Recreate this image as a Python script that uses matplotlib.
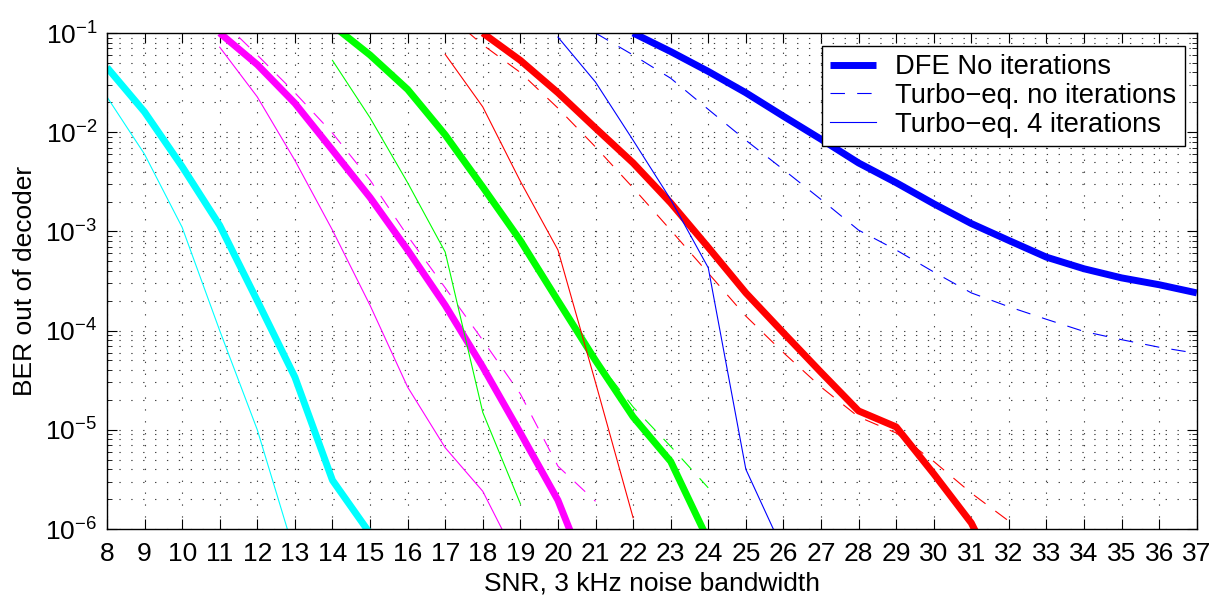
import numpy as np
import matplotlib
matplotlib.use('Agg')
import matplotlib.pyplot as plt
from matplotlib.ticker import LogLocator, NullFormatter, FixedLocator

# BER curves (SNR in dB -> BER)
snr_cyan = [8, 9, 10, 11, 12, 13, 14, 15]
cyan_dfe = [0.045, 0.016, 4.5e-3, 1.15e-3, 2.0e-4, 3.4e-5, 3.1e-6, 9e-7]
cyan_turbo0 = [0.044, 0.0155, 4.3e-3, 1.1e-3, 1.9e-4, 3.1e-5, 3.0e-6, 9e-7]
snr_cyan4 = [8, 9, 10, 11, 12, 13]
cyan_turbo4 = [0.0227, 6.0e-3, 1.1e-3, 1.0e-4, 1.0e-5, 5.6e-7]

snr_mag = [11, 12, 13, 14, 15, 16, 17, 18, 19, 20, 21]
mag_dfe = [0.1, 0.048, 0.0196, 6.6e-3, 2.2e-3, 6.5e-4, 1.8e-4, 4.3e-5, 9.3e-6, 1.95e-6, 2.2e-7]
mag_turbo0 = [0.14, 0.06, 0.025, 9.8e-3, 3.3e-3, 9.0e-4, 2.7e-4, 8.0e-5, 2.3e-5, 4.3e-6, 1.9e-6]
snr_mag4 = [11, 12, 13, 14, 15, 16, 17, 18, 19]
mag_turbo4 = [0.072, 0.0227, 5.2e-3, 1.03e-3, 1.8e-4, 2.7e-5, 6.6e-6, 2.4e-6, 4.3e-7]

snr_grn = [14, 15, 16, 17, 18, 19, 20, 21, 22, 23, 24]
grn_dfe = [0.12, 0.06, 0.027, 9.4e-3, 2.8e-3, 8.1e-4, 2.0e-4, 5.0e-5, 1.35e-5, 4.8e-6, 7.7e-7]
grn_turbo0 = [0.12, 0.062, 0.028, 9.8e-3, 2.9e-3, 8.5e-4, 2.1e-4, 5.2e-5, 1.7e-5, 6.8e-6, 2.6e-6]
snr_grn4 = [14, 15, 16, 17, 18, 19]
grn_turbo4 = [0.053, 0.014, 3.1e-3, 6.2e-4, 1.5e-5, 1.8e-6]

snr_red = [18, 19, 20, 21, 22, 23, 24, 25, 26, 27, 28, 29, 30, 31, 32]
red_dfe = [0.1, 0.053, 0.025, 0.011, 4.9e-3, 1.94e-3, 6.9e-4, 2.4e-4, 9.5e-5, 3.8e-5,
           1.55e-5, 1.07e-5, 3.6e-6, 1.15e-6, 2e-7]
snr_red0 = [17, 18, 19, 20, 21, 22, 23, 24, 25, 26, 27, 28, 29, 30, 31, 32]
red_turbo0 = [0.16, 0.076, 0.04, 0.0175, 7.1e-3, 2.75e-3, 1.03e-3, 3.8e-4, 1.4e-4, 6.0e-5,
              2.7e-5, 1.35e-5, 9.3e-6, 4.8e-6, 2.3e-6, 1.2e-6]
snr_red4 = [17, 18, 19, 20, 21, 22]
red_turbo4 = [0.061, 0.018, 3.2e-3, 6.5e-4, 3.0e-5, 1.3e-6]

snr_blu = [22, 23, 24, 25, 26, 27, 28, 29, 30, 31, 32, 33, 34, 35, 36, 37]
blu_dfe = [0.1, 0.065, 0.041, 0.025, 0.0145, 8.5e-3, 4.9e-3, 3.1e-3, 1.9e-3, 1.2e-3,
           8.1e-4, 5.5e-4, 4.2e-4, 3.4e-4, 2.9e-4, 2.4e-4]
snr_blu0 = [21, 22, 23, 24, 25, 26, 27, 28, 29, 30, 31, 32, 33, 34, 35, 36, 37]
blu_turbo0 = [0.1, 0.06, 0.035, 0.017, 8.3e-3, 4.2e-3, 2.1e-3, 1.03e-3, 6.5e-4, 3.9e-4,
              2.4e-4, 1.74e-4, 1.3e-4, 9.8e-5, 8.1e-5, 6.8e-5, 5.9e-5]
snr_blu4 = [20, 21, 22, 23, 24, 25, 26]
blu_turbo4 = [0.091, 0.032, 8.3e-3, 2.1e-3, 4.3e-4, 4.0e-6, 6e-7]

legend_labels = ['DFE No iterations', 'Turbo\u2212eq. no iterations', 'Turbo\u2212eq. 4 iterations']

plt.rcParams['font.family'] = ['Liberation Sans', 'DejaVu Sans']
plt.rcParams['font.size'] = 19

fig = plt.figure(figsize=(12.17, 5.96), dpi=100)
ax = fig.add_axes([0.0879, 0.1124, 0.8955, 0.8322])

thick = 5.0
thin = 0.8
dash = (0, (13, 11))

groups = [
    ('#00ffff', snr_cyan, cyan_dfe, snr_cyan, cyan_turbo0, snr_cyan4, cyan_turbo4),
    ('#ff00ff', snr_mag, mag_dfe, snr_mag, mag_turbo0, snr_mag4, mag_turbo4),
    ('#00ff00', snr_grn, grn_dfe, snr_grn, grn_turbo0, snr_grn4, grn_turbo4),
    ('#ff0000', snr_red, red_dfe, snr_red0, red_turbo0, snr_red4, red_turbo4),
    ('#0000ff', snr_blu, blu_dfe, snr_blu0, blu_turbo0, snr_blu4, blu_turbo4),
]
handles = []
for col, x1, y1, x2, y2, x3, y3 in groups:
    h1, = ax.semilogy(x1, y1, color=col, lw=thick, solid_capstyle='butt', solid_joinstyle='round')
    h2, = ax.semilogy(x2, y2, color=col, lw=thin, linestyle=dash)
    h3, = ax.semilogy(x3, y3, color=col, lw=thin)
    handles = [h1, h2, h3]

ax.set_xlim(8, 37)
ax.set_ylim(1e-6, 1e-1)
ax.xaxis.set_major_locator(FixedLocator(np.arange(8, 38)))
ax.yaxis.set_major_locator(LogLocator(base=10, numticks=10))
ax.yaxis.set_minor_locator(LogLocator(base=10, subs=np.arange(2, 10), numticks=20))
ax.yaxis.set_minor_formatter(NullFormatter())

grid_style = dict(color='0.25', linestyle=(0, (1.2, 9.5)), linewidth=0.8)
ax.grid(True, which='major', axis='both', **grid_style)
ax.grid(True, which='minor', axis='y', **grid_style)

ax.tick_params(which='both', direction='in', top=True, right=True)
ax.tick_params(which='major', length=7, width=0.8, pad=9)
ax.tick_params(which='minor', length=3.5, width=0.6)
ax.tick_params(axis='y', which='major', pad=7)
for s in ax.spines.values():
    s.set_linewidth(1.0)

ax.set_xlabel('SNR, 3 kHz noise bandwidth', labelpad=4)
ax.set_ylabel('BER out of decoder', labelpad=6)

leg = ax.legend(handles, legend_labels, loc='upper right', bbox_to_anchor=(0.989, 0.974),
                fancybox=False, framealpha=1, edgecolor='black', borderaxespad=0,
                fontsize=19.7, handlelength=1.7, borderpad=0.3, labelspacing=0.1,
                handletextpad=0.7)
leg.get_frame().set_linewidth(1.0)

fig.savefig('out.png', dpi=100)
